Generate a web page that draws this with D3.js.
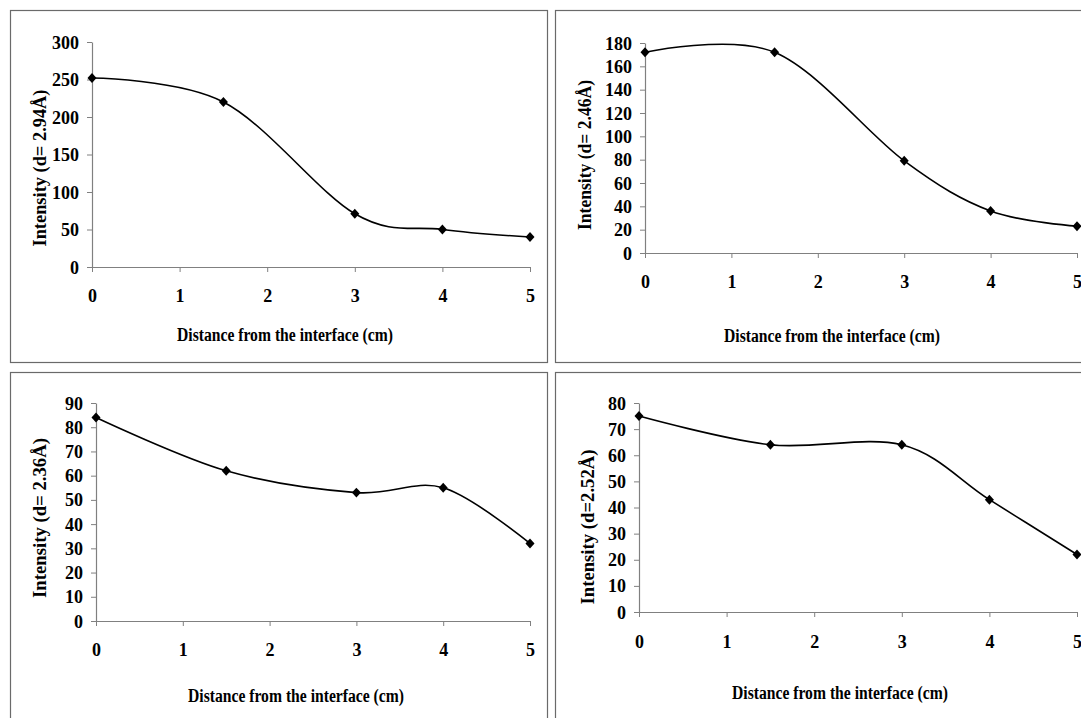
<!DOCTYPE html>
<html><head><meta charset="utf-8">
<script src="https://cdn.jsdelivr.net/npm/d3@7/dist/d3.min.js"></script>
<style>body{margin:0;background:#fff}svg{display:block}</style>
</head><body>
<svg id="c" width="1081" height="718"></svg>
<script>
// ---- data ----
const distance = [0, 1.5, 3, 4, 5];
const xTicks = [0, 1, 2, 3, 4, 5];
const int294 = [252, 220, 71, 50, 40];
const int246 = [172, 172, 79, 36, 23];
const int236 = [84, 62, 53, 55, 32];
const int252 = [75, 64, 64, 43, 22];
const yTicks294 = [0, 50, 100, 150, 200, 250, 300];
const yTicks246 = [0, 20, 40, 60, 80, 100, 120, 140, 160, 180];
const yTicks236 = [0, 10, 20, 30, 40, 50, 60, 70, 80, 90];
const yTicks252 = [0, 10, 20, 30, 40, 50, 60, 70, 80];
const yTitles = ["Intensity (d= 2.94Å)", "Intensity (d= 2.46Å)", "Intensity (d= 2.36Å)", "Intensity (d=2.52Å)"];
const xTitle = "Distance from the interface (cm)";

// ---- layout ----
const panels = [
  {vals:int294, ticks:yTicks294, title:yTitles[0], box:[10,10,537,352], x0:92, x1:530, y0:267, y1:42,
   ytx:39, yty:168, ytl:157, xl:296, xtx:285, xty:335},
  {vals:int246, ticks:yTicks246, title:yTitles[1], box:[555,10,560,352], x0:645, x1:1077, y0:253, y1:43,
   ytx:584, yty:155, ytl:150, xl:282, xtx:832, xty:336},
  {vals:int236, ticks:yTicks236, title:yTitles[2], box:[10,372,537,380], x0:96, x1:530, y0:621, y1:403,
   ytx:39, yty:518, ytl:160, xl:650, xtx:296, xty:696},
  {vals:int252, ticks:yTicks252, title:yTitles[3], box:[555,372,560,380], x0:639, x1:1077, y0:612, y1:403,
   ytx:587, yty:527, ytl:155, xl:642, xtx:840, xty:693}
];

const svg = d3.select("#c");
const font = "'Liberation Serif','Times New Roman',serif";

panels.forEach(p => {
  const g = svg.append("g");
  g.append("rect").attr("x", p.box[0]+0.5).attr("y", p.box[1]+0.5)
    .attr("width", p.box[2]).attr("height", p.box[3])
    .attr("fill", "none").attr("stroke", "#6a6a6a").attr("stroke-width", 1.2);

  const x = d3.scaleLinear().domain([0, 5]).range([p.x0, p.x1]);
  const y = d3.scaleLinear().domain([0, d3.max(p.ticks)]).range([p.y0, p.y1]);

  const ya = g.append("g").attr("transform", `translate(${p.x0},0)`)
    .call(d3.axisLeft(y).tickValues(p.ticks).tickSize(5).tickSizeOuter(0).tickFormat(d3.format("d")).tickPadding(8));
  const xa = g.append("g").attr("transform", `translate(0,${p.y0})`)
    .call(d3.axisBottom(x).tickValues(xTicks).tickSize(5).tickSizeOuter(0).tickFormat(d3.format("d")));
  [ya, xa].forEach(a => {
    a.select(".domain").attr("stroke", "#808080").attr("stroke-width", 1.2);
    a.selectAll(".tick line").attr("stroke", "#808080");
    a.selectAll("text").attr("fill", "#000").style("font-family", font)
      .style("font-weight", "bold").style("font-size", "18px");
  });
  ya.selectAll(".tick text").attr("dy", null).attr("dominant-baseline", "central");
  xa.selectAll(".tick text").attr("dy", null).attr("dominant-baseline", "central")
    .attr("y", p.xl - p.y0);

  const pts = distance.map((d, i) => [x(d), y(p.vals[i])]);
  g.append("path").attr("d", d3.line().curve(d3.curveCardinal.tension(0))(pts))
    .attr("fill", "none").attr("stroke", "#000").attr("stroke-width", 1.6);
  g.selectAll("path.m").data(pts).enter().append("path").attr("class", "m")
    .attr("d", d3.symbol().type(d3.symbolDiamond2).size(52))
    .attr("transform", d => `translate(${d[0]},${d[1]}) scale(1,1.1)`).attr("fill", "#000");

  g.append("text").attr("x", p.xtx).attr("y", p.xty)
    .attr("text-anchor", "middle").attr("dominant-baseline", "central")
    .style("font-family", font).style("font-weight", "bold").style("font-size", "18px")
    .attr("textLength", 216).attr("lengthAdjust", "spacingAndGlyphs")
    .text(xTitle);
  g.append("text").attr("transform", `translate(${p.ytx},${p.yty}) rotate(-90)`)
    .attr("text-anchor", "middle").attr("dominant-baseline", "central")
    .style("font-family", font).style("font-weight", "bold").style("font-size", "19px")
    .attr("textLength", p.ytl).attr("lengthAdjust", "spacingAndGlyphs")
    .text(p.title);
});
</script>
</body></html>
